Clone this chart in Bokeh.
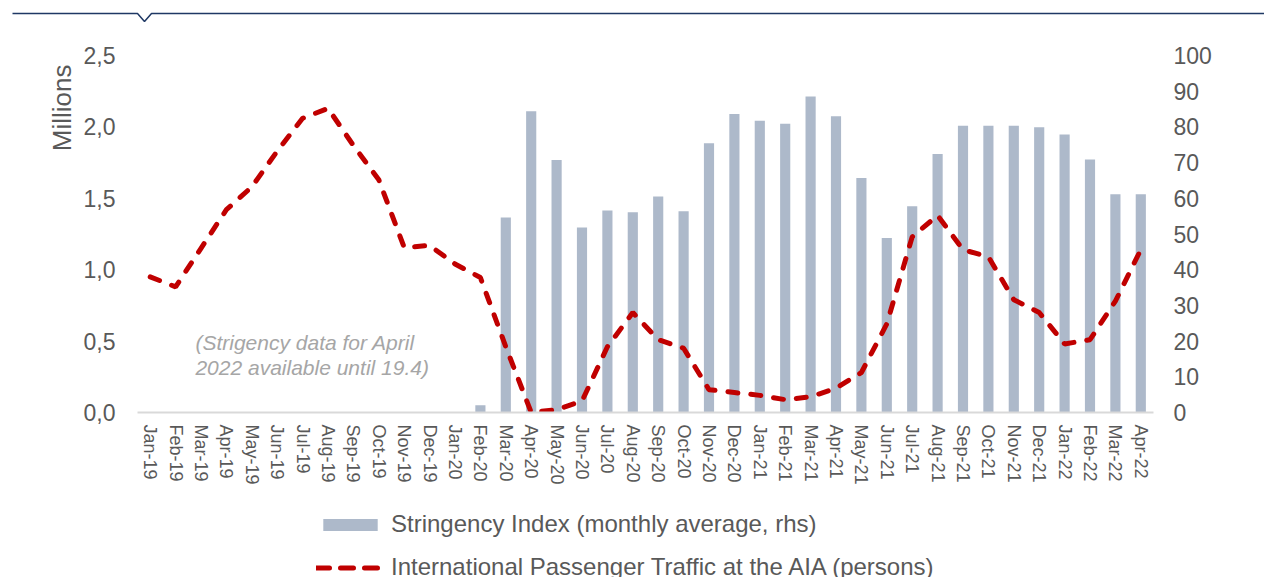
from bokeh.plotting import figure
from bokeh.layouts import column
from bokeh.models import (Range1d, FactorRange, LinearAxis, FixedTicker, Legend, LegendItem,
                          Label, Title, ColumnDataSource)
from bokeh.embed import file_html
from bokeh.resources import INLINE

NAN = float("nan")

months = ["Jan-19", "Feb-19", "Mar-19", "Apr-19", "May-19", "Jun-19", "Jul-19", "Aug-19",
          "Sep-19", "Oct-19", "Nov-19", "Dec-19", "Jan-20", "Feb-20", "Mar-20", "Apr-20",
          "May-20", "Jun-20", "Jul-20", "Aug-20", "Sep-20", "Oct-20", "Nov-20", "Dec-20",
          "Jan-21", "Feb-21", "Mar-21", "Apr-21", "May-21", "Jun-21", "Jul-21", "Aug-21",
          "Sep-21", "Oct-21", "Nov-21", "Dec-21", "Jan-22", "Feb-22", "Mar-22", "Apr-22"]

# International passenger traffic at AIA (millions of persons)
passengers = [0.95, 0.88, 1.15, 1.42, 1.58, 1.83, 2.06, 2.13, 1.87, 1.63, 1.155, 1.17,
              1.04, 0.945, 0.46, 0.00, 0.02, 0.08, 0.46, 0.70, 0.51, 0.45, 0.16, 0.14,
              0.12, 0.09, 0.11, 0.17, 0.28, 0.62, 1.23, 1.38, 1.14, 1.09, 0.79, 0.70,
              0.48, 0.51, 0.78, 1.14]

# Stringency index (monthly average, rhs)
stringency = [NAN, NAN, NAN, NAN, NAN, NAN, NAN, NAN, NAN, NAN, NAN, NAN, NAN,
              2.0, 54.6, 84.4, 70.7, 51.8, 56.6, 56.1, 60.5, 56.4, 75.4, 83.6,
              81.7, 80.9, 88.5, 83.0, 65.7, 48.9, 57.8, 72.4, 80.3, 80.3, 80.3, 79.9,
              77.9, 70.9, 61.1, 61.1]

left_ticks = [0.0, 0.5, 1.0, 1.5, 2.0, 2.5]
left_tick_labels = ["0,0", "0,5", "1,0", "1,5", "2,0", "2,5"]
right_ticks = [0, 10, 20, 30, 40, 50, 60, 70, 80, 90, 100]

y_title = "Millions"
bar_label = "Stringency Index (monthly average, rhs)"
line_label = "International Passenger Traffic at the AIA (persons)"
note_lines = ["(Strigency data for April", "2022 available until 19.4)"]

FONT = "Liberation Sans"
TXT = "#595959"
BAR = "#ADB9CA"
RED = "#C00000"

W = 1264

# --- decorative header rule with notch ---
top = figure(width=W, height=24, x_range=Range1d(0, W), y_range=Range1d(24, 0),
             toolbar_location=None, output_backend="svg", min_border=0,
             frame_align=False)
top.axis.visible = False
top.grid.visible = False
top.outline_line_color = None
rule_x = [12, 137, 144, 151, W]
rule_y = [13, 13, 21, 13, 13]
top.line(rule_x, rule_y, line_color="#1F3864", line_width=1.5)

# --- main chart ---
p = figure(width=W, height=476, x_range=FactorRange(factors=months, range_padding=0),
           y_range=Range1d(0, 2.5), toolbar_location=None, output_backend="svg",
           min_border_left=137, min_border_right=111, min_border_top=31,
           min_border_bottom=88, frame_align=False)
p.extra_y_ranges = {"rhs": Range1d(0, 100)}
p.grid.visible = False
p.outline_line_color = None

src = ColumnDataSource(dict(m=months, s=stringency, v=passengers))
p.vbar(x="m", top="s", width=0.4, source=src, y_range_name="rhs",
       fill_color=BAR, line_color=None)
p.line(x="m", y="v", source=src, line_color=RED, line_width=5,
       line_dash="10 13", line_cap="round")

xa = p.xaxis[0]
xa.major_label_orientation = "vertical"
xa.major_label_text_font = FONT
xa.major_label_text_font_size = "18px"
xa.major_label_text_color = TXT
xa.major_label_standoff = 6
xa.major_tick_line_color = None
xa.minor_tick_line_color = None
xa.axis_line_color = "#D9D9D9"
xa.axis_line_width = 2

ya = p.yaxis[0]
ya.ticker = FixedTicker(ticks=left_ticks)
ya.major_label_overrides = {t: l for t, l in zip(left_ticks, left_tick_labels)}
ya.major_label_text_font = FONT
ya.major_label_text_font_size = "23px"
ya.major_label_text_color = TXT
ya.major_label_standoff = 16
ya.axis_line_color = None
ya.major_tick_line_color = None
ya.minor_tick_line_color = None

ra = LinearAxis(y_range_name="rhs", ticker=FixedTicker(ticks=right_ticks))
ra.major_label_text_font = FONT
ra.major_label_text_font_size = "23px"
ra.major_label_text_color = TXT
ra.major_label_standoff = 14
ra.axis_line_color = None
ra.major_tick_line_color = None
ra.minor_tick_line_color = None
p.add_layout(ra, "right")

p.add_layout(Title(text=y_title, align="right", offset=9, standoff=8,
                   text_font=FONT, text_font_size="26px", text_font_style="normal",
                   text_color=TXT), "left")

for txt, yy in zip(note_lines, [0.49, 0.315]):
    p.add_layout(Label(x=2.28, y=yy, text=txt, text_font=FONT, text_font_size="21px",
                       text_font_style="italic", text_color="#A6A6A6",
                       text_align="left", text_baseline="middle"))

# --- legend strip: its own (hidden) copies of the two series supply the legend glyphs ---
lg = figure(width=W, height=77, x_range=FactorRange(factors=months, range_padding=0),
            y_range=Range1d(-2, -1), toolbar_location=None, output_backend="svg",
            min_border=0, frame_align=False)
lg.axis.visible = False
lg.grid.visible = False
lg.outline_line_color = None
lsrc = ColumnDataSource(dict(m=months, s=stringency, v=passengers))
bars_l = lg.vbar(x="m", top="s", width=0.4, source=lsrc, fill_color=BAR, line_color=None)
line_l = lg.line(x="m", y="v", source=lsrc, line_color=RED, line_width=5,
                 line_dash="13 11", line_cap="round")
bars_l.visible = False
line_l.visible = False
legend = Legend(items=[LegendItem(label=bar_label, renderers=[bars_l]),
                       LegendItem(label=line_label, renderers=[line_l])],
                location=(316, -4), orientation="vertical",
                glyph_width=68, glyph_height=15, label_standoff=7,
                label_height=28, spacing=15, padding=0, margin=0,
                label_text_font=FONT, label_text_font_size="24px",
                label_text_color=TXT, border_line_color=None,
                background_fill_alpha=0, inactive_fill_alpha=0)
lg.add_layout(legend, "center")

layout = column(top, p, lg, spacing=0)
open("out.html", "w").write(file_html(layout, INLINE))
